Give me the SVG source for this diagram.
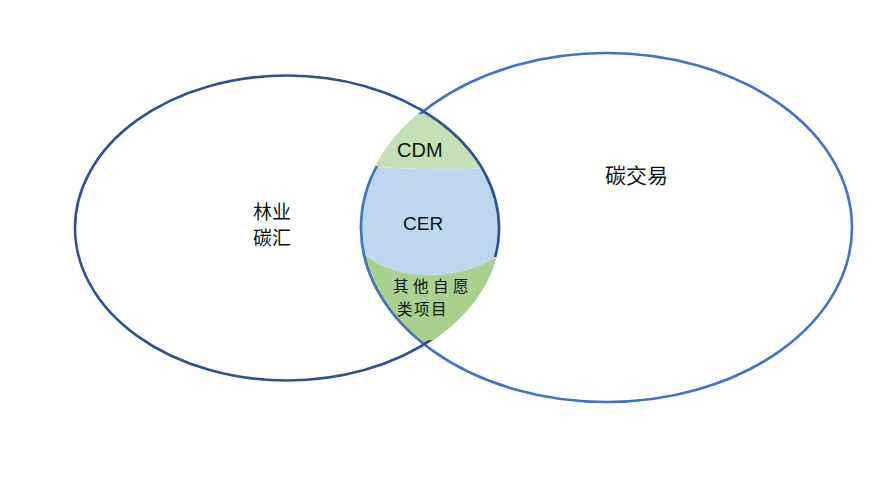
<svg xmlns="http://www.w3.org/2000/svg" width="872" height="490" viewBox="0 0 872 490">
  <style>
    .lbl { font-family: "Liberation Sans", "Noto Sans CJK SC", sans-serif; fill: #111; }
    .cjk { font-family: "Noto Sans CJK SC", sans-serif; fill: #111; }
    .edgeL { fill: none; stroke: #2f528f; stroke-width: 2.6; }
    .edgeR { fill: none; stroke: #4472c4; stroke-width: 2.6; }
  </style>
  <defs>
    <clipPath id="clipL">
      <ellipse cx="287" cy="228" rx="213.5" ry="154"/>
    </clipPath>
    <clipPath id="clipR">
      <ellipse cx="606.5" cy="227.5" rx="247" ry="176"/>
    </clipPath>
    <clipPath id="hideR">
      <path clip-rule="evenodd" d="M0 0 H872 V490 H0 Z M352 114 H421 V166 H352 Z"/>
    </clipPath>
    <clipPath id="hideL">
      <path clip-rule="evenodd" d="M0 0 H872 V490 H0 Z M428 257 H505 V340 H428 Z"/>
    </clipPath>
  </defs>
  <rect width="872" height="490" fill="#ffffff"/>

  <g id="overlap" clip-path="url(#clipL)">
    <g clip-path="url(#clipR)">
      <path id="cdm-region" fill="#c5e0b4" d="M340 60 H520 V165 Q 445 174 340 164 Z"/>
      <path id="cer-region" fill="#bdd7ee" d="M340 164 Q 445 174 520 165 V248 L510 248 C 455 290, 380 280, 352 242 L340 242 Z"/>
      <path id="other-region" fill="#a9d18e" d="M340 242 H352 C 380 280, 455 290, 510 248 H520 V360 H340 Z"/>
    </g>
  </g>

  <g id="node-trading">
    <ellipse class="edgeR" cx="606.5" cy="227.5" rx="245.5" ry="174.5" clip-path="url(#hideR)"/>
    <text class="cjk" x="605" y="183" font-size="21">碳交易</text>
  </g>

  <g id="node-forestry">
    <ellipse class="edgeL" cx="287" cy="228" rx="212" ry="152.5" clip-path="url(#hideL)"/>
    <text class="cjk" x="253" y="219" font-size="19">林业</text>
    <text class="cjk" x="253" y="245" font-size="19">碳汇</text>
  </g>

  <g id="node-cdm">
    <text class="lbl" x="397" y="157" font-size="20">CDM</text>
  </g>
  <g id="node-cer">
    <text class="lbl" x="403" y="230" font-size="19">CER</text>
  </g>
  <g id="node-other">
    <text class="cjk" x="393" y="292" font-size="15.5" letter-spacing="4.5">其他自愿</text>
    <text class="cjk" x="397" y="314.5" font-size="15.5" letter-spacing="1.5">类项目</text>
  </g>
  <g id="connectors"/>
</svg>
